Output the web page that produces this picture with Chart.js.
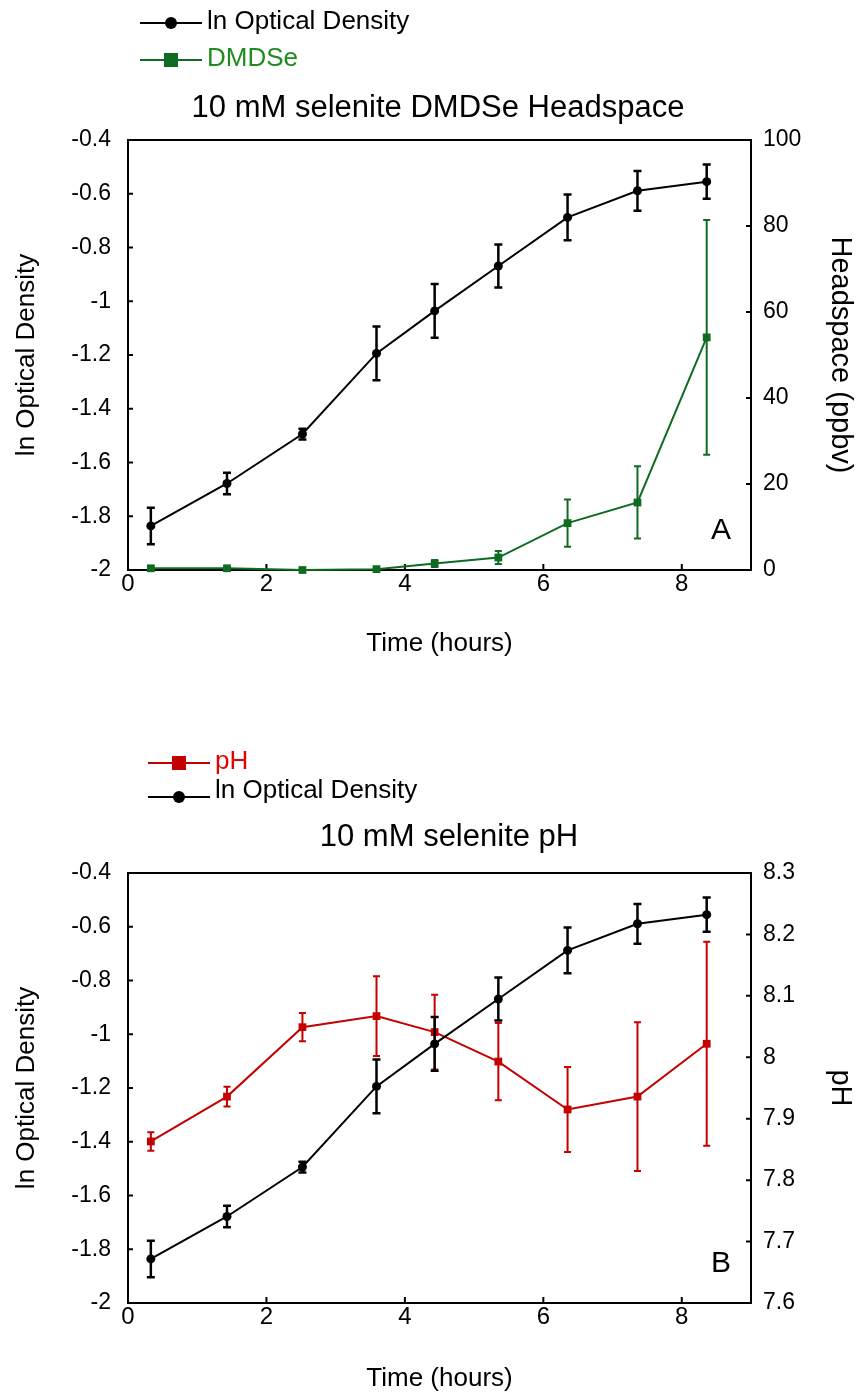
<!DOCTYPE html>
<html>
<head>
<meta charset="utf-8">
<script src="https://cdn.jsdelivr.net/npm/chart.js@4.4.1/dist/chart.umd.min.js"></script>
<style>
  body { margin: 0; background: #fff; }
  canvas { display: block; }
</style>
</head>
<body>
<canvas id="chartA" width="864" height="733"></canvas>
<canvas id="chartB" width="864" height="661"></canvas>
<script>
// values
const timeHours = [0.33, 1.43, 2.52, 3.59, 4.43, 5.35, 6.35, 7.36, 8.36];
const lnOD      = [-1.836, -1.678, -1.494, -1.194, -1.036, -0.869, -0.688, -0.589, -0.555];
const lnODErr   = [0.068, 0.04, 0.02, 0.1, 0.1, 0.08, 0.085, 0.074, 0.064];
const dmdse     = [0.4, 0.4, 0, 0.2, 1.5, 2.9, 10.9, 15.7, 54.1];
const dmdseErr  = [0.3, 0.3, 0.2, 0.3, 0.8, 1.5, 5.5, 8.4, 27.3];
const pH        = [7.863, 7.936, 8.049, 8.067, 8.041, 7.993, 7.915, 7.936, 8.022];
const pHErr     = [0.015, 0.016, 0.023, 0.065, 0.061, 0.063, 0.069, 0.121, 0.166];

const xTicks   = { min: 0, max: 9, step: 2 };
const odTicks  = { min: -2, max: -0.4, step: 0.2 };
const hsTicks  = { min: 0, max: 100, step: 20 };
const pHTicks  = { min: 7.6, max: 8.3, step: 0.1 };

const FONT = "'Liberation Sans', Arial, sans-serif";
Chart.defaults.font.family = FONT;
Chart.defaults.color = '#000';

const BLACK = '#000000';
const GREEN = '#0f6b22';
const RED = '#c40000';

const fmt = v => String(Math.round(v * 10) / 10);
const pts = ys => timeHours.map((t, i) => ({ x: t, y: ys[i] }));

// frame, inward ticks, error bars, legend, title and panel letter
function decor(cfg) {
  return {
    id: 'decor',
    beforeDatasetsDraw(chart) {
      const { ctx, chartArea: a, scales } = chart;
      ctx.save();
      ctx.strokeStyle = '#000';
      ctx.lineWidth = 2;
      ctx.strokeRect(a.left, a.top, a.right - a.left, a.bottom - a.top);
      ctx.beginPath();
      scales.x.ticks.forEach(t => {
        const px = scales.x.getPixelForValue(t.value);
        ctx.moveTo(px, a.bottom); ctx.lineTo(px, a.bottom - 6);
      });
      scales.y.ticks.forEach(t => {
        const py = scales.y.getPixelForValue(t.value);
        ctx.moveTo(a.left, py); ctx.lineTo(a.left + 5, py);
      });
      scales.y1.ticks.forEach(t => {
        const py = scales.y1.getPixelForValue(t.value);
        ctx.moveTo(a.right, py); ctx.lineTo(a.right - 5, py);
      });
      ctx.stroke();
      ctx.restore();
    },
    beforeDatasetDraw(chart, args) {
      const ds = chart.data.datasets[args.index];
      if (!ds.errorBars) return;
      const { ctx } = chart;
      const xs = chart.scales.x, ys = chart.scales[ds.yAxisID];
      ctx.save();
      ctx.strokeStyle = ds.borderColor;
      ctx.lineWidth = ds.errWidth;
      ctx.beginPath();
      ds.data.forEach((p, i) => {
        const e = ds.errorBars[i];
        const px = xs.getPixelForValue(p.x);
        const top = ys.getPixelForValue(p.y + e);
        const bot = ys.getPixelForValue(p.y - e);
        ctx.moveTo(px, top); ctx.lineTo(px, bot);
        ctx.moveTo(px - ds.capHalf, top); ctx.lineTo(px + ds.capHalf, top);
        ctx.moveTo(px - ds.capHalf, bot); ctx.lineTo(px + ds.capHalf, bot);
      });
      ctx.stroke();
      ctx.restore();
    },
    afterDraw(chart) {
      const { ctx, chartArea: a } = chart;
      ctx.save();
      cfg.legend.forEach(it => {
        ctx.strokeStyle = it.color;
        ctx.lineWidth = 2;
        ctx.beginPath();
        ctx.moveTo(it.x0, it.y); ctx.lineTo(it.x1, it.y);
        ctx.stroke();
        const mx = (it.x0 + it.x1) / 2;
        ctx.fillStyle = it.color;
        if (it.marker === 'rect') {
          ctx.fillRect(mx - 7, it.y - 7, 14, 14);
        } else {
          ctx.beginPath(); ctx.arc(mx, it.y, 6, 0, Math.PI * 2); ctx.fill();
        }
        ctx.fillStyle = it.textColor;
        ctx.font = `26px ${FONT}`;
        ctx.textAlign = 'left';
        ctx.textBaseline = 'middle';
        ctx.fillText(it.text, it.x1 + 5, it.ty);
      });
      ctx.fillStyle = '#000';
      ctx.font = `31px ${FONT}`;
      ctx.textAlign = 'center';
      ctx.textBaseline = 'alphabetic';
      ctx.fillText(cfg.title, cfg.titleX, cfg.titleY);
      ctx.font = `30px ${FONT}`;
      ctx.fillText(cfg.panel, a.right - 30, a.bottom - 31);
      ctx.restore();
    }
  };
}

function xScale(height, titlePad) {
  return {
    type: 'linear', position: 'bottom',
    min: xTicks.min, max: xTicks.max,
    grid: { display: false, drawTicks: false },
    border: { display: false },
    ticks: { stepSize: xTicks.step, includeBounds: false, padding: 0, font: { size: 24 }, color: '#000' },
    title: { display: true, text: 'Time (hours)', font: { size: 26 }, color: '#000', padding: { top: 0, bottom: titlePad } },
    afterFit: s => { s.height = height; }
  };
}

function yScale(position, t, title, titleSize, titlePad, tickPad, width) {
  return {
    type: 'linear', position,
    min: t.min, max: t.max,
    grid: { display: false, drawTicks: false },
    border: { display: false },
    ticks: { stepSize: t.step, includeBounds: false, padding: tickPad, font: { size: 23 }, color: '#000', callback: fmt },
    title: { display: true, text: title, font: { size: titleSize }, color: '#000', padding: { top: titlePad, bottom: 0 } },
    afterFit: s => { s.width = width; }
  };
}

function odDataset() {
  return {
    label: 'ln Optical Density', data: pts(lnOD), yAxisID: 'y',
    errorBars: lnODErr, errWidth: 2.5, capHalf: 4,
    borderColor: BLACK, backgroundColor: BLACK, borderWidth: 2,
    pointStyle: 'circle', pointRadius: 4.5, pointBorderWidth: 0,
    pointBackgroundColor: BLACK, tension: 0, clip: false
  };
}

const baseOptions = {
  responsive: false, animation: false,
  layout: { padding: { top: 140, left: 0, right: 0, bottom: 0 } },
  plugins: { legend: { display: false }, tooltip: { enabled: false } }
};

new Chart(document.getElementById('chartA'), {
  type: 'line',
  data: {
    datasets: [
      odDataset(),
      {
        label: 'DMDSe', data: pts(dmdse), yAxisID: 'y1',
        errorBars: dmdseErr, errWidth: 2, capHalf: 3.5,
        borderColor: GREEN, backgroundColor: GREEN, borderWidth: 2,
        pointStyle: 'rect', pointRadius: 5.5, pointBorderWidth: 0,
        pointBackgroundColor: GREEN, tension: 0, clip: false
      }
    ]
  },
  options: {
    ...baseOptions,
    scales: {
      x: xScale(163, 74),
      y: yScale('left', odTicks, 'ln Optical Density', 26, 11, 17, 128),
      y1: yScale('right', hsTicks, 'Headspace (ppbv)', 29, 7, 12, 113)
    }
  },
  plugins: [decor({
    title: '10 mM selenite DMDSe Headspace', titleX: 438, titleY: 117, panel: 'A',
    legend: [
      { text: 'ln Optical Density', color: BLACK, textColor: '#000', marker: 'circle', x0: 140, x1: 202, y: 23, ty: 22 },
      { text: 'DMDSe', color: GREEN, textColor: '#1f8c1f', marker: 'rect', x0: 140, x1: 202, y: 60, ty: 59 }
    ]
  })]
});

new Chart(document.getElementById('chartB'), {
  type: 'line',
  data: {
    datasets: [
      odDataset(),
      {
        label: 'pH', data: pts(pH), yAxisID: 'y1',
        errorBars: pHErr, errWidth: 2, capHalf: 3.5,
        borderColor: RED, backgroundColor: RED, borderWidth: 2,
        pointStyle: 'rect', pointRadius: 5.5, pointBorderWidth: 0,
        pointBackgroundColor: RED, tension: 0, clip: false
      }
    ]
  },
  options: {
    ...baseOptions,
    scales: {
      x: xScale(91, 0),
      y: yScale('left', odTicks, 'ln Optical Density', 26, 11, 17, 128),
      y1: yScale('right', pHTicks, 'pH', 29, 7, 12, 113)
    }
  },
  plugins: [decor({
    title: '10 mM selenite pH', titleX: 449, titleY: 113, panel: 'B',
    legend: [
      { text: 'pH', color: RED, textColor: '#e60000', marker: 'rect', x0: 148, x1: 210, y: 30, ty: 29 },
      { text: 'ln Optical Density', color: BLACK, textColor: '#000', marker: 'circle', x0: 148, x1: 210, y: 64, ty: 58 }
    ]
  })]
});
</script>
</body>
</html>
